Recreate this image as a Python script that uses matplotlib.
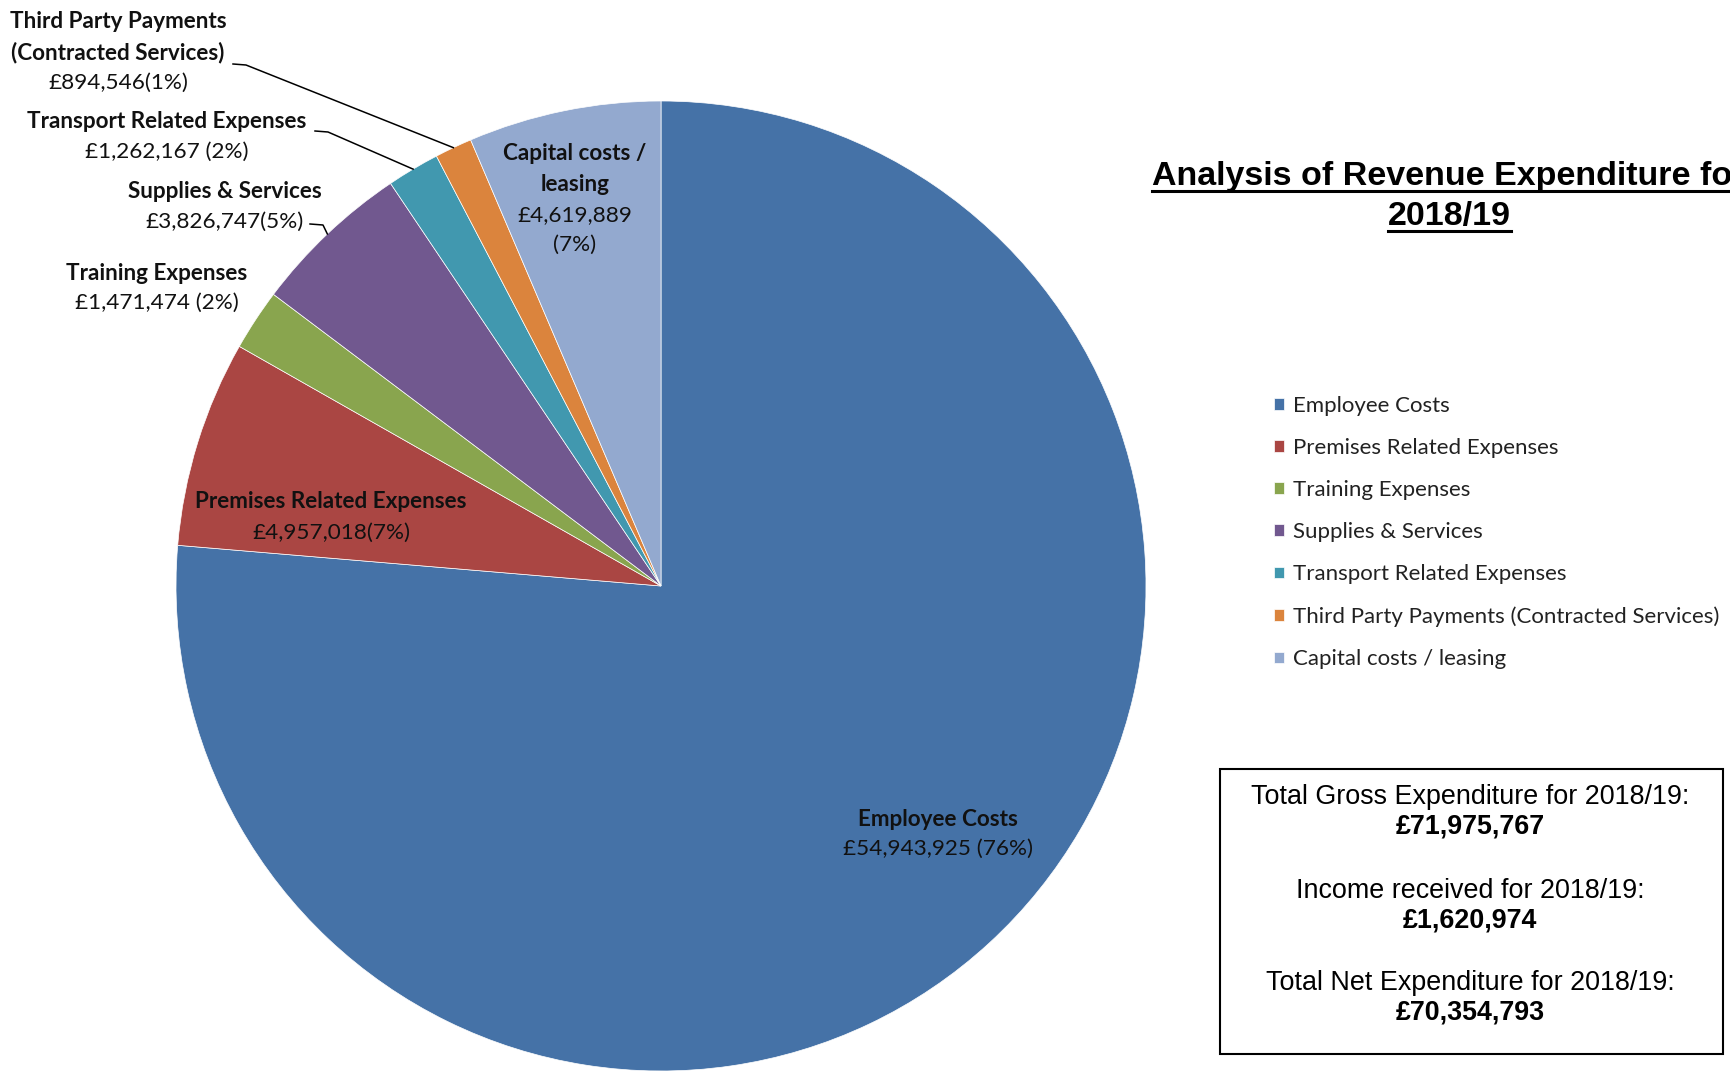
import numpy as np
import matplotlib
matplotlib.use('Agg')
import matplotlib.pyplot as plt
from matplotlib.patches import Rectangle

# данные
names = ["Employee Costs", "Premises Related Expenses", "Training Expenses",
         "Supplies & Services", "Transport Related Expenses",
         "Third Party Payments (Contracted Services)", "Capital costs / leasing"]
values = [54943925, 4957018, 1471474, 3826747, 1262167, 894546, 4619889]
colors = ['#4572A7', '#AA4643', '#89A54E', '#71588F', '#4198AF', '#DB843D', '#93A9CF']

# подписи на диаграмме (жирные строки / обычные строки)
name_lines = [["Employee Costs"], ["Premises Related Expenses"], ["Training Expenses"],
              ["Supplies & Services"], ["Transport Related Expenses"],
              ["Third Party Payments", "(Contracted Services)"], ["Capital costs /", "leasing"]]
value_lines = [["£54,943,925 (76%)"], ["£4,957,018(7%)"], ["£1,471,474 (2%)"],
               ["£3,826,747(5%)"], ["£1,262,167 (2%)"], ["£894,546(1%)"],
               ["£4,619,889", "(7%)"]]

summary_labels = ["Total Gross Expenditure for 2018/19:", "Income received for 2018/19:",
                  "Total Net Expenditure for 2018/19:"]
summary_values = ["£71,975,767", "£1,620,974", "£70,354,793"]

W, H = 1730, 1072
def Y(y):  # координата y от верхнего края картинки
    return H - y

calibri = ['Lato', 'DejaVu Sans']
arial = ['Liberation Sans', 'DejaVu Sans']

fig = plt.figure(figsize=(W / 100, H / 100), dpi=100)
ax = fig.add_axes([0, 0, 1, 1])

cx, cy, r = 661, Y(586), 485
wedges, _ = ax.pie(values, colors=colors, startangle=90, counterclock=False,
                   center=(cx, cy), radius=r,
                   wedgeprops=dict(edgecolor='white', linewidth=0.5))
ax.set_xlim(0, W)
ax.set_ylim(0, H)
ax.set_aspect('equal')
ax.axis('off')

# позиции подписей: центр x, y первой строки, шаг строк
label_pos = [(938, 820, 29), (331, 502, 31), (157, 273, 30), (225, 191, 31),
             (167, 121, 31), (118, 22, 30.5), (575, 154, 30.3)]
for i in range(len(names)):
    x, y, step = label_pos[i]
    lines = [(t, 'bold') for t in name_lines[i]] + [(t, 'normal') for t in value_lines[i]]
    for k, (t, w) in enumerate(lines):
        ax.text(x, Y(y + k * step), t, ha='center', va='center', fontsize=16.2,
                fontweight=w, family=calibri, color='#111111')

# линии-выноски
leader_start = {3: (310, 224), 4: (315, 131), 5: (233, 64)}
for i, (x0, y0) in leader_start.items():
    w = wedges[i]
    th = np.deg2rad((w.theta1 + w.theta2) / 2)
    ex, ey = cx + r * np.cos(th), cy + r * np.sin(th)
    ax.plot([x0, x0 + 13, ex], [Y(y0), Y(y0 + 1), ey], color='black', lw=1.1)

# заголовок (как в оригинале, обрезан правым краем)
t1 = ax.text(1449, Y(176), "Analysis of Revenue Expenditure for", ha='center', va='center',
             fontsize=24.5, fontweight='bold', family=arial)
t2 = ax.text(1449, Y(216), "2018/19", ha='center', va='center',
             fontsize=24.5, fontweight='bold', family=arial)

# легенда
leg = ax.legend(wedges, names, loc='upper left', bbox_to_anchor=(1274, Y(395.5)),
                bbox_transform=ax.transData, frameon=False, borderpad=0,
                borderaxespad=0, handlelength=0.45, handleheight=0.45,
                handletextpad=0.4, labelspacing=1.0,
                prop=dict(family=calibri, size=16))
for txt in leg.get_texts():
    txt.set_color('#222222')

# рамка с итогами
ax.add_patch(Rectangle((1220, Y(1054)), 1723 - 1220, 1054 - 769, fill=False,
                       edgecolor='black', lw=1.5))
ys = [797, 891, 983]
for lab, val, y in zip(summary_labels, summary_values, ys):
    ax.text(1470, Y(y), lab, ha='center', va='center', fontsize=19.4, family=arial)
    ax.text(1470, Y(y + 30), val, ha='center', va='center', fontsize=19.4,
            fontweight='bold', family=arial)

# подчёркивание заголовка
fig.canvas.draw()
renderer = fig.canvas.get_renderer()
inv = ax.transData.inverted()
for t in (t1, t2):
    bb = t.get_window_extent(renderer)
    (x0, y0), (x1, y1) = inv.transform([(bb.x0, bb.y0), (bb.x1, bb.y1)])
    ax.plot([x0, x1], [y0 + 1, y0 + 1], color='black', lw=2.2, clip_on=False)

fig.savefig('out.png', dpi=100)
